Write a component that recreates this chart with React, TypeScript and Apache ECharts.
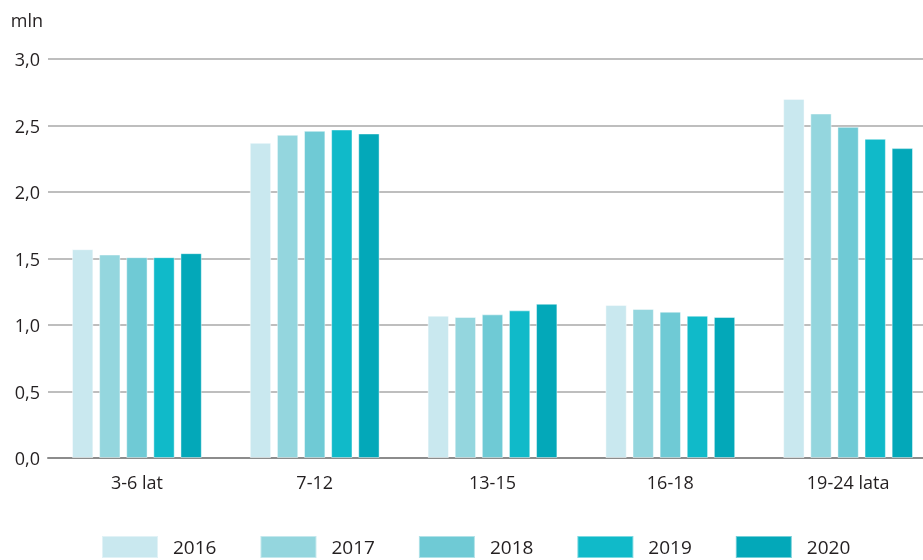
import React, { useEffect, useRef } from "react";
import * as echarts from "echarts";

const categories = ["3-6 lat", "7-12", "13-15", "16-18", "19-24 lata"];
const years = ["2016", "2017", "2018", "2019", "2020"];
const values2016 = [1.57, 2.37, 1.07, 1.15, 2.7];
const values2017 = [1.53, 2.43, 1.06, 1.12, 2.59];
const values2018 = [1.51, 2.46, 1.08, 1.1, 2.49];
const values2019 = [1.51, 2.47, 1.11, 1.07, 2.4];
const values2020 = [1.54, 2.44, 1.16, 1.06, 2.33];
const seriesValues = [values2016, values2017, values2018, values2019, values2020];
const colors = ["#c9e8ef", "#94d6de", "#6fcad5", "#10bac9", "#03a8b9"];

const FONT = "'Open Sans', 'Noto Sans', sans-serif";
const TEXT = "#231f20";

export default function App() {
  const ref = useRef<HTMLDivElement>(null);
  useEffect(() => {
    if (!ref.current) return;
    const chart = echarts.init(ref.current, undefined, { renderer: "svg" });
    chart.setOption({
      animation: false,
      textStyle: { fontFamily: FONT },
      grid: {
        left: 48,
        width: 889,
        top: 59,
        height: 399,
        containLabel: false,
        outerBoundsMode: "none",
      },
      legend: {
        left: 101,
        top: 535,
        padding: 0,
        itemWidth: 56,
        itemHeight: 22,
        itemGap: 43,
        icon: "rect",
        data: years,
        textStyle: {
          fontSize: 19,
          color: TEXT,
          fontFamily: FONT,
          padding: [0, 0, 0, 10],
        },
      },
      xAxis: {
        type: "category",
        data: categories,
        axisLine: { show: true, lineStyle: { color: "#8c8c8c", width: 2 } },
        axisTick: { show: false },
        axisLabel: { fontSize: 18, color: TEXT, margin: 15, fontFamily: FONT },
      },
      yAxis: {
        type: "value",
        min: 0,
        max: 3,
        interval: 0.5,
        name: "mln",
        nameLocation: "end",
        nameGap: 39,
        nameTextStyle: {
          fontSize: 18,
          color: TEXT,
          align: "right",
          verticalAlign: "middle",
          padding: [0, 5, 0, 0],
          fontFamily: FONT,
        },
        axisLine: { show: false },
        axisTick: { show: false },
        splitLine: { lineStyle: { color: "#a8a8a8", width: 1.5 } },
        axisLabel: {
          fontSize: 18,
          color: TEXT,
          margin: 8,
          fontFamily: FONT,
          formatter: (v: number) => v.toFixed(1).replace(".", ","),
        },
      },
      series: years.map((y, i) => ({
        name: y,
        type: "bar",
        data: seriesValues[i],
        barGap: "27%",
        barCategoryGap: "27%",
        itemStyle: {
          color: colors[i],
          borderColor: "rgba(255,255,255,0.45)",
          borderWidth: 1,
        },
      })),
    });
    return () => chart.dispose();
  }, []);
  return (
    <div
      ref={ref}
      style={{ position: "fixed", left: 0, top: 0, width: 923, height: 560 }}
    />
  );
}
